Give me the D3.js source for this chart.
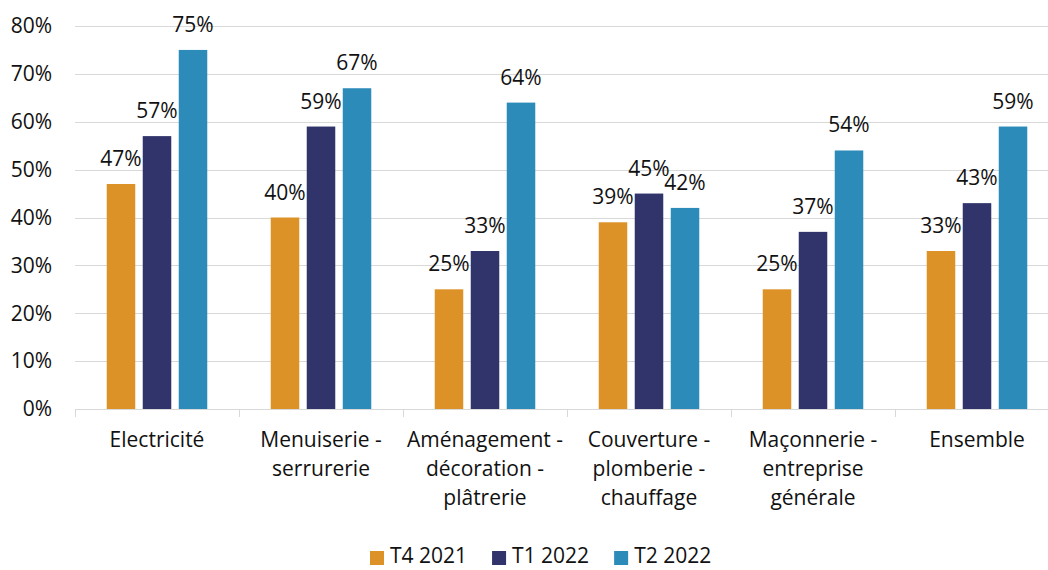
<!DOCTYPE html>
<head>
  <meta charset="utf-8">
  <script src="https://d3js.org/d3.v7.min.js"></script>
  <style>
    body { margin:0; padding:0; background:#fff; }
    svg { display:block; font-family:"Open Sans", sans-serif; }
  </style>
</head>
<body>
<svg id="chart" width="1048" height="570"></svg>
<script>
  var categories = [
    ["Electricité"],
    ["Menuiserie -", "serrurerie"],
    ["Aménagement -", "décoration -", "plâtrerie"],
    ["Couverture -", "plomberie -", "chauffage"],
    ["Maçonnerie -", "entreprise", "générale"],
    ["Ensemble"]
  ];
  var seriesNames = ["T4 2021", "T1 2022", "T2 2022"];
  var t4_2021 = [47, 40, 25, 39, 25, 33];
  var t1_2022 = [57, 59, 33, 45, 37, 43];
  var t2_2022 = [75, 67, 64, 42, 54, 59];
  var yTicks = [0, 10, 20, 30, 40, 50, 60, 70, 80];
  var colors = ["#dc9226", "#30346a", "#2d8bba"];

  var series = [t4_2021, t1_2022, t2_2022];
  var catKeys = categories.map(function(c) { return c.join(" "); });

  var svg = d3.select("#chart");
  var fs = 21;
  var plotLeft = 75, plotRight = 1059, plotTop = 26, plotBottom = 409;

  var y = d3.scaleLinear().domain([0, 80]).range([plotBottom, plotTop]);
  var x0 = d3.scaleBand().domain(catKeys).range([plotLeft, plotRight])
      .paddingInner(0.387).paddingOuter(0.1935);
  var x1 = d3.scaleBand().domain(seriesNames).range([0, x0.bandwidth()])
      .paddingInner(0.208);
  var step = x0.step();

  // gridlines
  svg.append("g").selectAll("line").data(yTicks.slice(1)).join("line")
    .attr("x1", plotLeft).attr("x2", plotRight)
    .attr("y1", function(d) { return Math.round(y(d)) + 0.5; })
    .attr("y2", function(d) { return Math.round(y(d)) + 0.5; })
    .attr("stroke", "#d9d9d9").attr("stroke-width", 1);

  // y labels
  svg.append("g").selectAll("text").data(yTicks).join("text")
    .attr("x", 52).attr("y", function(d) { return y(d); })
    .attr("dy", "0.35em").attr("text-anchor", "end")
    .attr("font-size", fs).attr("fill", "#111")
    .text(function(d) { return d + "%"; });

  // bars
  var groups = svg.append("g").selectAll("g").data(catKeys).join("g")
    .attr("transform", function(d) { return "translate(" + x0(d) + ",0)"; });

  groups.each(function(c, i) {
    var g = d3.select(this);
    var vals = series.map(function(s, j) { return { name: seriesNames[j], v: s[i], col: colors[j] }; });
    g.selectAll("rect").data(vals).join("rect")
      .attr("x", function(d) { return x1(d.name); })
      .attr("width", x1.bandwidth())
      .attr("y", function(d) { return y(d.v); })
      .attr("height", function(d) { return plotBottom - y(d.v); })
      .attr("fill", function(d) { return d.col; });
    g.selectAll("text").data(vals).join("text")
      .attr("x", function(d) { return x1(d.name) + x1.bandwidth() / 2; })
      .attr("y", function(d) { return y(d.v) - 18; })
      .attr("text-anchor", "middle").attr("font-size", fs).attr("fill", "#111")
      .text(function(d) { return d.v + "%"; });
  });

  // x axis line and ticks
  svg.append("line").attr("x1", plotLeft).attr("x2", plotRight)
    .attr("y1", plotBottom + 0.5).attr("y2", plotBottom + 0.5)
    .attr("stroke", "#d9d9d9").attr("stroke-width", 1);
  var bounds = d3.range(catKeys.length + 1).map(function(i) { return plotLeft + i * step; });
  svg.append("g").selectAll("line").data(bounds).join("line")
    .attr("x1", function(d) { return Math.round(d) + 0.5; })
    .attr("x2", function(d) { return Math.round(d) + 0.5; })
    .attr("y1", plotBottom).attr("y2", plotBottom + 8)
    .attr("stroke", "#d9d9d9").attr("stroke-width", 1);

  // category labels
  svg.append("g").selectAll("text").data(categories).join("text")
    .attr("x", function(d, i) { return x0(catKeys[i]) + x0.bandwidth() / 2; })
    .attr("y", 447)
    .attr("text-anchor", "middle").attr("font-size", fs).attr("fill", "#111")
    .each(function(d) {
      var t = d3.select(this);
      d.forEach(function(line, k) {
        t.append("tspan").attr("x", t.attr("x")).attr("dy", k === 0 ? 0 : 29).text(line);
      });
    });

  // legend
  var legend = svg.append("g");
  var lx = 370;
  seriesNames.forEach(function(name, i) {
    legend.append("rect").attr("x", lx).attr("y", 551).attr("width", 14).attr("height", 14)
      .attr("fill", colors[i]);
    var t = legend.append("text").attr("x", lx + 20).attr("y", 563)
      .attr("font-size", fs).attr("fill", "#111").text(name);
    lx = lx + 20 + t.node().getComputedTextLength() + 25;
  });
</script>
</body>
